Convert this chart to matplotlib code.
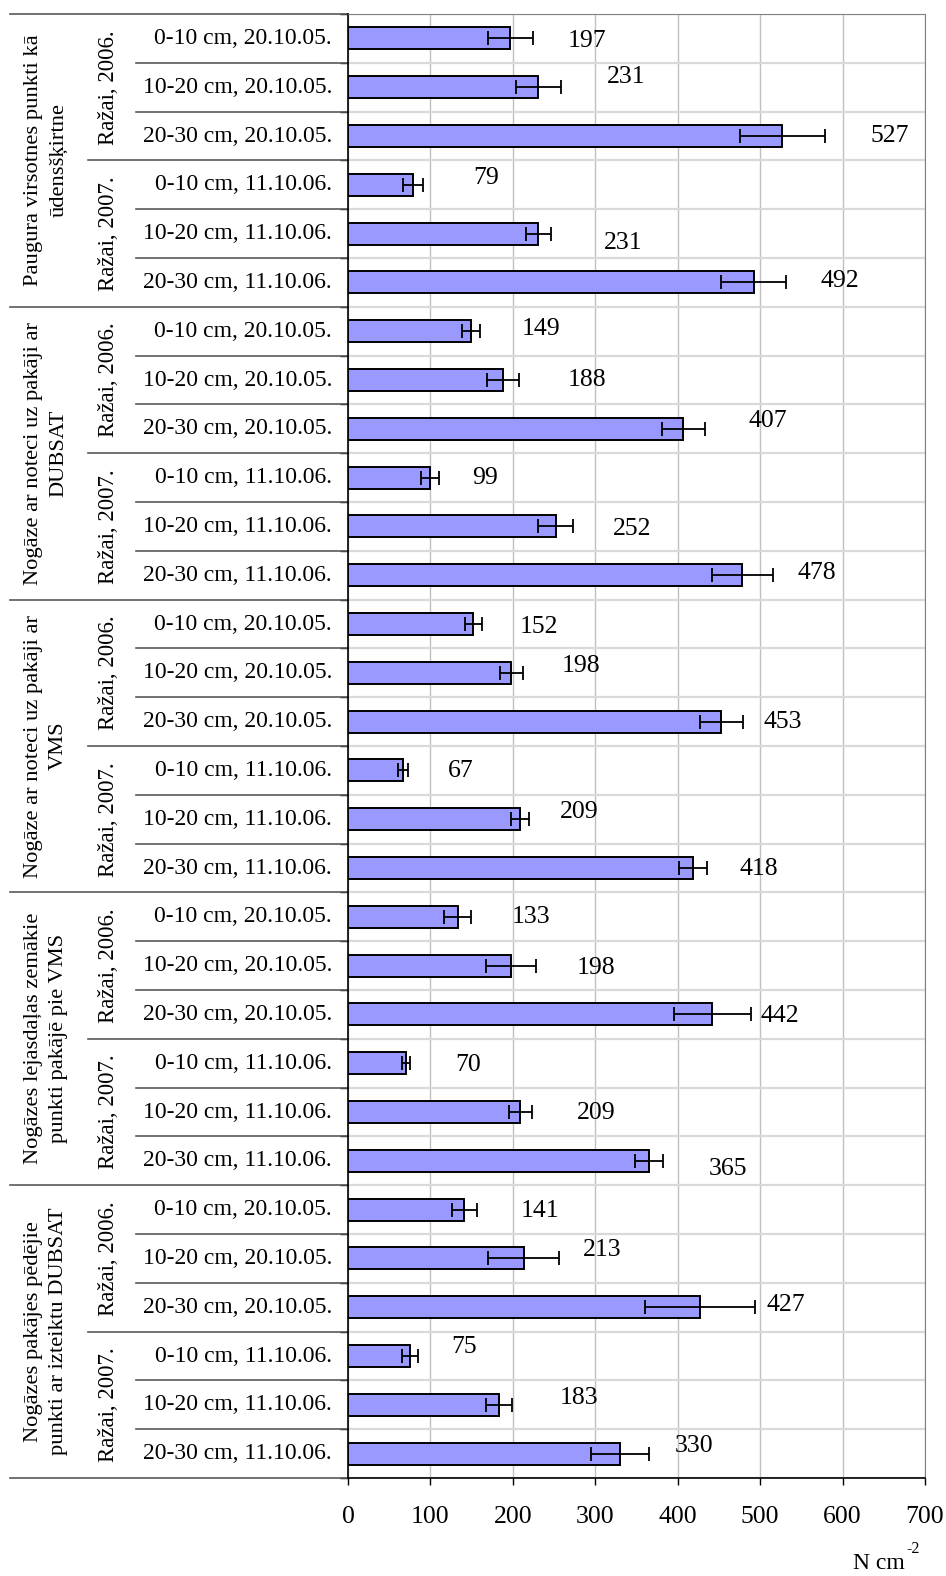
import numpy as np
import matplotlib.pyplot as plt
import matplotlib.transforms as mtransforms

plt.rcParams['font.family'] = ['Liberation Serif', 'DejaVu Serif']

# Sample sites, harvest years and sampling depths
groups = ['Paugura virsotnes punkti kā\nūdensšķirtne',
          'Nogāze ar noteci uz pakāji ar\nDUBSAT',
          'Nogāze ar noteci uz pakāji ar\nVMS',
          'Nogāzes lejasdaļas zemākie\npunkti pakājē pie VMS',
          'Nogāzes pakājes pēdējie\npunkti ar izteiktu DUBSAT']
years = ['Ražai, 2006.', 'Ražai, 2007.']
dates = ['20.10.05.', '11.10.06.']
depths = ['0-10 cm', '10-20 cm', '20-30 cm']

# Soil penetration resistance, N cm-2 (mean and +/- error)
values = [197, 231, 527, 79, 231, 492,
          149, 188, 407, 99, 252, 478,
          152, 198, 453, 67, 209, 418,
          133, 198, 442, 70, 209, 365,
          141, 213, 427, 75, 183, 330]
errors = [27, 27, 52, 12, 15, 39,
          11, 19, 26, 11, 21, 37,
          10, 14, 26, 6, 11, 17,
          16, 30, 47, 5, 14, 17,
          15, 43, 67, 10, 16, 35]

# where the value labels sit (x in N cm-2, y shift in rows)
label_x = [290, 338, 657, 168, 334, 597,
           234, 290, 509, 166, 345, 569,
           232, 283, 528, 137, 280, 498,
           222, 301, 524, 146, 301, 461,
           233, 308, 531, 141, 280, 420]
label_dy = [3, -10, 0, -7, 9, -1,
            -2, 0, -8, 0, 3, -2,
            3, -7, 0, 1, -7, 1,
            0, 2, 2, 2, 1, 8,
            1, -8, -2, -9, -7, -8]

W, H = 946, 1576
fig = plt.figure(figsize=(W / 100, H / 100), dpi=100)
ax = fig.add_axes([348 / W, 1 - 1478 / H, (925 - 348) / W, (1478 - 14) / H])

n = len(values)
pos = np.arange(n)
ax.barh(pos, values, height=0.45, color='#9999ff', edgecolor='black',
        linewidth=1.4, zorder=3)
ax.errorbar(values, pos, xerr=errors, fmt='none', ecolor='black',
            elinewidth=1.3, capsize=4.7, capthick=1.3, zorder=4)

ax.set_xlim(0, 700)
ax.set_ylim(n - 0.5, -0.5)
ax.set_xticks(np.arange(0, 701, 100))
ax.set_yticks(np.arange(n + 1) - 0.5)
ax.set_yticklabels([])
ax.tick_params(axis='y', length=6, width=1, direction='out')
ax.tick_params(axis='x', length=5, width=1, pad=15, labelsize=18.5)
ax.grid(axis='x', color='#c0c0c0', lw=1)
ax.grid(axis='y', color='#d9d9d9', lw=1.6)
ax.set_axisbelow(True)
for s in ['top', 'right']:
    ax.spines[s].set_color('#808080')
for s in ['left', 'bottom']:
    ax.spines[s].set_linewidth(1.2)

for i in range(n):
    ax.text(label_x[i], i + label_dy[i] / 48.8, str(values[i]),
            fontsize=18.5, ha='center', va='center', zorder=5)

# category labels on the left, in figure x / data y
trans = mtransforms.blended_transform_factory(fig.transFigure, ax.transData)
for i in range(n):
    g, r = divmod(i, 6)
    yr, d = divmod(r, 3)
    ax.text(332 / W, i, depths[d] + ', ' + dates[yr], transform=trans,
            ha='right', va='center', fontsize=17)
for g in range(len(groups)):
    for yr in range(len(years)):
        ax.text(108 / W, 6 * g + 3 * yr + 1, years[yr], transform=trans,
                rotation=90, ha='center', va='center', fontsize=16.5)
    ax.text(46 / W, 6 * g + 2.5, groups[g], transform=trans, rotation=90,
            ha='center', va='center', multialignment='center',
            linespacing=1.45, fontsize=16.2)

for k in range(n + 1):
    x0 = 10 if k % 6 == 0 else (88 if k % 3 == 0 else 136)
    ax.plot([x0 / W, 348 / W], [k - 0.5, k - 0.5], transform=trans,
            color='#595959', lw=1.2, clip_on=False)

# axis unit, N cm-2 with a raised exponent
fig.text(905 / W, 1 - 1569 / H, 'N cm', ha='right', va='baseline',
         fontsize=17)
fig.text(906 / W, 1 - 1553 / H, '-2', ha='left', va='baseline',
         fontsize=11.5)

fig.savefig('out.png', dpi=100)
